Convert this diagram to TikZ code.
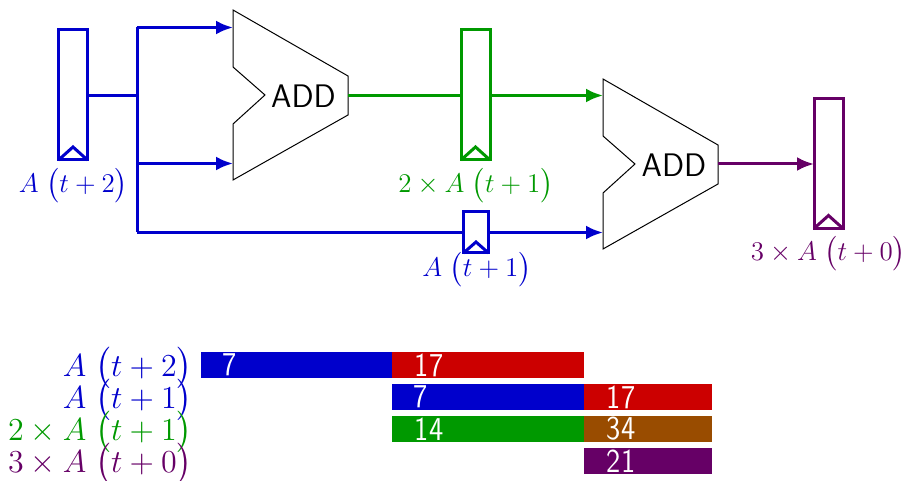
\RequirePackage{fix-cm}
\documentclass[tikz,border=0pt]{standalone}
\usepackage{amsmath}
\usetikzlibrary{arrows.meta,calc}
\definecolor{cblue}{HTML}{0000CC}
\definecolor{cgreen}{HTML}{009900}
\definecolor{cred}{HTML}{CC0000}
\definecolor{cpurple}{HTML}{660066}
\definecolor{cbrown}{HTML}{994C00}
\newcommand{\At}[1]{A\mkern5mu\bigl(t+#1\bigr)}
\tikzset{
  reg/.style={draw=#1,line width=1.5pt,fill=white,inner sep=0pt,anchor=north west,outer sep=0pt},
  wire/.style={line width=1.5pt},
  arr/.style={wire,-{Latex[length=8.5pt,width=7pt]}},
  adder/.style={line width=.5pt,draw=black,fill=white},
  addtxt/.style={font=\sffamily\fontsize{16.3}{18}\selectfont,inner sep=0pt},
  toplbl/.style={font=\fontsize{13.5}{15}\selectfont,inner sep=0pt},
  botlbl/.style={font=\fontsize{16}{18}\selectfont,inner sep=0pt,anchor=east},
  bartext/.style={text=white,inner sep=0pt},
}
\newcommand{\bartxt}[1]{\scalebox{1}[1.15]{\sffamily\fontsize{14.5}{16}\selectfont #1}}
\newcommand{\clk}[2]{\draw[#2,line width=1.5pt] (#1.south west) -- ++(14.5,-13) -- (#1.south east);}
\begin{document}
\begin{tikzpicture}[x=.5pt,y=-.5pt]
\useasboundingbox (0,0) rectangle (906,481);
% adders
\draw[adder] (233,10)--(233,67)--(265,95)--(233,124)--(233,180)--(348,115)--(348,76)--cycle;
\draw[adder] (603,79)--(603,136)--(635,164)--(603,193)--(603,249)--(718,184)--(718,145)--cycle;
\node[addtxt] (add1) at (303.5,96) {ADD};
\node[addtxt] (add2) at (674,165) {ADD};
\coordinate (a1a) at (233,27.5);
\coordinate (a1b) at (233,163.5);
\coordinate (a1o) at (348,95.5);
\coordinate (a2a) at (603,95.5);
\coordinate (a2b) at (603,232.5);
\coordinate (a2o) at (718,164);
\coordinate (j0) at (137,95.5);
\coordinate (j1) at (137,27.5);
\coordinate (j2) at (137,163.5);
\coordinate (j3) at (137,232.5);
% registers
\node[reg=cblue,minimum width=14.5pt,minimum height=65pt] (r1) at (58.5,30) {};
\node[reg=cgreen,minimum width=14.5pt,minimum height=65pt] (r2) at (461,30) {};
\node[reg=cblue,minimum width=12.5pt,minimum height=20.5pt] (r3) at (463.5,212) {};
\node[reg=cpurple,minimum width=14.5pt,minimum height=65pt] (r4) at (814,98.5) {};
\clk{r1}{cblue}
\clk{r2}{cgreen}
\draw[cblue,line width=1.5pt] (r3.south west) -- ++(12.5,-11) -- (r3.south east);
\clk{r4}{cpurple}
% wires
\draw[wire,cblue] (r1.east |- j0) -- (j0);
\draw[wire,cblue] (j1) -- (j3);
\draw[arr,cblue] (j1) -- (a1a);
\draw[arr,cblue] (j2) -- (a1b);
\draw[wire,cblue] (j3) -- (r3.west |- j3);
\draw[arr,cblue] (r3.east |- j3) -- (a2b);
\draw[wire,cgreen] (a1o) -- (r2.west |- a1o);
\draw[arr,cgreen] (r2.east |- a2a) -- (a2a);
\draw[arr,cpurple] (a2o) -- (r4.west |- a2o);
% labels
\node[toplbl,text=cblue] (l1) at (73.5,186) {$\At{2}$};
\node[toplbl,text=cgreen] (l2) at (476,186) {$2\times \At{1}$};
\node[toplbl,text=cblue] (l3) at (477,270) {$\At{1}$};
\node[toplbl,text=cpurple] (l4) at (828.5,254) {$3\times \At{0}$};
% chart
\node[botlbl,text=cblue] (b1) at (193,368) {$\At{2}$};
\node[botlbl,text=cblue] (b2) at (193,400) {$\At{1}$};
\node[botlbl,text=cgreen] (b3) at (193,432) {$2\times \At{1}$};
\node[botlbl,text=cpurple] (b4) at (193,464) {$3\times \At{0}$};
\fill[cblue] (201,352) rectangle (392,378);
\fill[cred] (392,352) rectangle (584,378);
\fill[cblue] (392,384) rectangle (584,410);
\fill[cred] (584,384) rectangle (712,410);
\fill[cgreen] (392,416) rectangle (584,442);
\fill[cbrown] (584,416) rectangle (712,442);
\fill[cpurple] (584,448) rectangle (712,474);
\node[bartext] (t1) at (230,365) {\bartxt{7}};
\node[bartext] (t2) at (429,365) {\bartxt{17}};
\node[bartext] (t3) at (421,397) {\bartxt{7}};
\node[bartext] (t4) at (621,397) {\bartxt{17}};
\node[bartext] (t5) at (429,429) {\bartxt{14}};
\node[bartext] (t6) at (621,429) {\bartxt{34}};
\node[bartext] (t7) at (621,461) {\bartxt{21}};
\end{tikzpicture}
\end{document}
